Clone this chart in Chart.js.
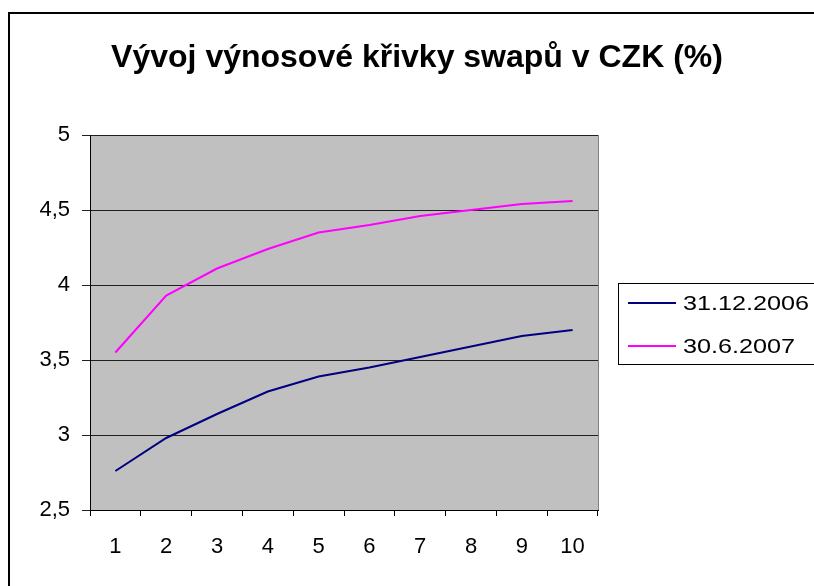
<!DOCTYPE html>
<html>
<head>
<meta charset="utf-8">
<script src="https://cdn.jsdelivr.net/npm/chart.js@4"></script>
<style>
  html, body { margin: 0; padding: 0; background: #fff; }
  #wrap { position: relative; width: 814px; height: 586px; }
</style>
</head>
<body>
<div id="wrap"><canvas id="c" width="814" height="586"></canvas></div>
<script>
const TITLE = "Vývoj výnosové křivky swapů v CZK (%)";
const maturities = ["1", "2", "3", "4", "5", "6", "7", "8", "9", "10"];
const dec2006 = [2.76, 2.98, 3.14, 3.29, 3.39, 3.45, 3.52, 3.59, 3.66, 3.70];
const jun2007 = [3.55, 3.93, 4.11, 4.24, 4.35, 4.40, 4.46, 4.50, 4.54, 4.56];
const seriesLabels = ["31.12.2006", "30.6.2007"];
const seriesColors = ["#000080", "#ff00ff"];

const FONT = "'Liberation Sans', Arial, sans-serif";

// gray plot background, outer frame, title and the boxed legend on the right
const excelLook = {
  id: "excelLook",
  beforeDraw(chart) {
    const { ctx, chartArea: a } = chart;
    ctx.save();
    ctx.fillStyle = "#c0c0c0";
    ctx.fillRect(a.left, a.top, a.right - a.left, a.bottom - a.top);
    ctx.restore();
  },
  afterDraw(chart) {
    const { ctx, chartArea: a } = chart;
    ctx.save();
    // right edge of plot
    ctx.strokeStyle = "#808080";
    ctx.lineWidth = 1;
    ctx.beginPath();
    ctx.moveTo(a.right + 0.5, a.top);
    ctx.lineTo(a.right + 0.5, a.bottom);
    ctx.stroke();

    // outer frame
    ctx.strokeStyle = "#000";
    ctx.lineWidth = 2;
    ctx.strokeRect(9, 13, 820, 600);

    // title
    ctx.fillStyle = "#000";
    ctx.font = `bold 32px ${FONT}`;
    ctx.textAlign = "center";
    ctx.textBaseline = "alphabetic";
    ctx.fillText(TITLE, 417, 67);

    // legend (text is a little stretched sideways, as in the original)
    ctx.lineWidth = 1;
    ctx.strokeRect(618.5, 283.5, 220, 81);
    ctx.textAlign = "left";
    ctx.textBaseline = "middle";
    chart.data.datasets.forEach((ds, i) => {
      const y = 303 + i * 43;
      ctx.strokeStyle = ds.borderColor;
      ctx.lineWidth = 2;
      ctx.beginPath();
      ctx.moveTo(628, y);
      ctx.lineTo(676, y);
      ctx.stroke();
      ctx.save();
      ctx.translate(683, y + 1);
      ctx.scale(1.2, 1);
      ctx.font = `21px ${FONT}`;
      ctx.fillStyle = "#000";
      ctx.fillText(ds.label, 0, 0);
      ctx.restore();
    });
    ctx.restore();
  },
};

new Chart(document.getElementById("c"), {
  type: "line",
  data: {
    labels: maturities,
    datasets: [dec2006, jun2007].map((vals, i) => ({
      label: seriesLabels[i],
      data: vals,
      borderColor: seriesColors[i],
      backgroundColor: seriesColors[i],
      borderWidth: 2,
      pointRadius: 0,
      tension: 0,
    })),
  },
  options: {
    responsive: false,
    animation: false,
    layout: { padding: { left: 0, right: 216, top: 135, bottom: 16 } },
    plugins: { legend: { display: false }, title: { display: false }, tooltip: { enabled: false } },
    scales: {
      x: {
        offset: true,
        afterFit(s) { s.height = 60; },
        border: { color: "#000", width: 1 },
        grid: { offset: true, drawOnChartArea: false, color: "#000", tickLength: 6 },
        ticks: { color: "#000", font: { family: FONT, size: 22 }, padding: 18, maxRotation: 0 },
      },
      y: {
        min: 2.5,
        max: 5,
        afterFit(s) { s.width = 90; },
        border: { color: "#000", width: 1 },
        grid: { color: "#202020", tickLength: 8 },
        ticks: {
          stepSize: 0.5,
          color: "#000",
          font: { family: FONT, size: 22 },
          padding: 12,
          callback: (v) => String(v).replace(".", ","),
        },
      },
    },
  },
  plugins: [excelLook],
});
</script>
</body>
</html>
